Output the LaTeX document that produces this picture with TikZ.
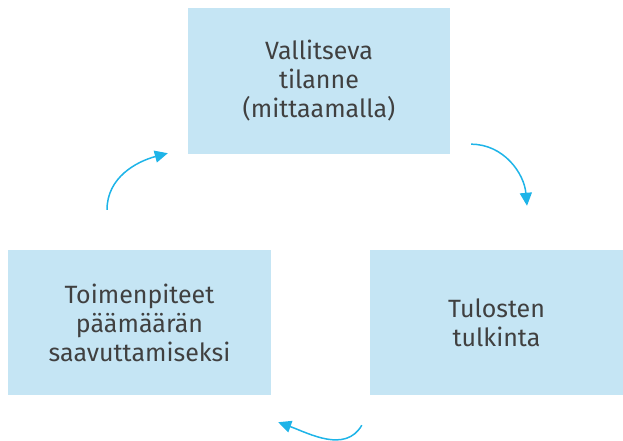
\documentclass[tikz,border=0pt]{standalone}
\usepackage{fontspec}
\setmainfont{Fira Sans}
\usetikzlibrary{arrows.meta, positioning, calc}

\definecolor{boxblue}{HTML}{C5E5F4}
\definecolor{arrowcyan}{HTML}{1EB4E8}
\definecolor{textgray}{HTML}{404040}

\begin{document}
\begin{tikzpicture}[x=1pt, y=1pt,
      stagebox/.style={fill=boxblue, inner sep=0pt, align=center,
      text=textgray, font=\fontsize{25pt}{29pt}\selectfont},
      cyclearrow/.style={-{Triangle[length=13pt, width=12pt]}, arrowcyan,
      line width=1.5pt} ]
    % Canvas
    \useasboundingbox (0,0) rectangle (623,440);

    % Boxes
    \node[stagebox, minimum width=262, minimum height=146] (state) at (319,359)
    {Vallitseva\\tilanne\\(mittaamalla)};
    \node[stagebox, minimum width=263, minimum height=145] (actions) at
    (139.5,117.5) {Toimenpiteet\\päämäärän\\saavuttamiseksi};
    \node[stagebox, minimum width=253, minimum height=145] (results) at
    (496.5,117.5) {Tulosten\\tulkinta};

    % Arrow ends
    \coordinate (a1s) at ($(actions.north)+(-32.5,40)$);
    \coordinate (a1e) at ($(state.south west)+(-20,1)$);
    \coordinate (a2s) at ($(state.south east)+(21,10)$);
    \coordinate (a2e) at ($(results.north)+(30.5,44)$);
    \coordinate (a3s) at ($(results.south west)+(-8,-30)$);
    \coordinate (a3e) at ($(actions.south east)+(7,-27)$);

    % Cycle arrows
    \draw[cyclearrow] (a1s) to[out=90, in=195] (a1e);
    \draw[cyclearrow] (a2s) to[out=0, in=95] (a2e);
    \draw[cyclearrow] (a3s) to[out=240, in=-20] (a3e);

    \end{tikzpicture}
\end{document}
